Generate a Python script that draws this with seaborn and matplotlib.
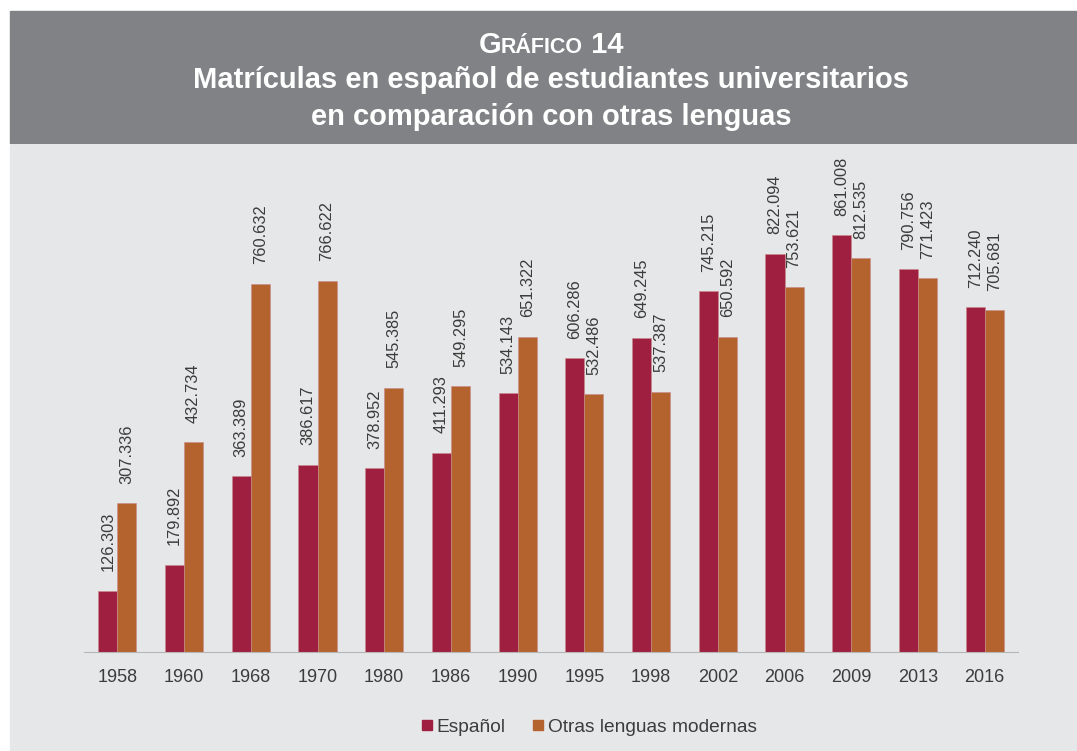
import matplotlib
matplotlib.use("Agg")
import matplotlib.pyplot as plt
from matplotlib.patches import Rectangle
from matplotlib.lines import Line2D
import pandas as pd
import seaborn as sns

years = ["1958", "1960", "1968", "1970", "1980", "1986", "1990",
         "1995", "1998", "2002", "2006", "2009", "2013", "2016"]
espanol = [126303, 179892, 363389, 386617, 378952, 411293, 534143,
           606286, 649245, 745215, 822094, 861008, 790756, 712240]
otras = [307336, 432734, 760632, 766622, 545385, 549295, 651322,
         532486, 537387, 650592, 753621, 812535, 771423, 705681]
series = ["Español", "Otras lenguas modernas"]
colors = ["#9e1f3f", "#b5632e"]

df = pd.DataFrame({
    "year": years * 2,
    "value": espanol + otras,
    "serie": [series[0]] * len(years) + [series[1]] * len(years),
})

sns.set_style("white")
plt.rcParams["font.family"] = ["Liberation Sans", "DejaVu Sans"]

text_col = "#3c3c3c"
body_bg = "#e6e7e8"

fig = plt.figure(figsize=(10.77, 7.51), dpi=100)
fig.patch.set_facecolor("white")
W, H = 1077, 751

# header band and body panel
fig.add_artist(Rectangle((10 / W, 1 - 143 / H), 1 - 10 / W, 132 / H,
                         transform=fig.transFigure, color="#818285", zorder=0))
fig.add_artist(Rectangle((10 / W, 0), 1 - 10 / W, 1 - 145 / H,
                         transform=fig.transFigure, color=body_bg, zorder=0))

ax = fig.add_axes([84 / W, 1 - 652 / H, (1018 - 84) / W, (652 - 160) / H])
ax.set_facecolor("none")

sns.barplot(data=df, x="year", y="value", hue="serie", palette=colors,
            width=0.57, gap=0, ax=ax, legend=False, saturation=1,
            edgecolor="#c98a8a", linewidth=0.4)

for cont in ax.containers:
    ax.bar_label(cont, labels=[f"{v:,.0f}".replace(",", ".") for v in cont.datavalues],
                 rotation=90, padding=14, fontsize=11.8, color=text_col)

ax.set_ylim(0, 1015880)
ax.set_xlim(-0.5, len(years) - 0.5)
ax.set_yticks([])
ax.set_xlabel("")
ax.set_ylabel("")
for s in ["top", "right", "left"]:
    ax.spines[s].set_visible(False)
ax.spines["bottom"].set_color("#b5b5b5")
ax.spines["bottom"].set_linewidth(0.8)
ax.tick_params(axis="x", which="major", length=0, pad=12, labelsize=13, labelcolor=text_col)
ax.set_xticks([i - 0.5 for i in range(len(years) + 1)], minor=True)
ax.tick_params(axis="x", which="minor", length=6, color="#b5b5b5", width=0.8)

handles = [Line2D([], [], marker="s", linestyle="none", markersize=6.5,
                  markerfacecolor=c, markeredgecolor=c) for c in colors]
fig.legend(handles, series, loc="center", bbox_to_anchor=(587 / W, 1 - 727 / H),
           ncol=2, frameon=False, fontsize=13.8, handletextpad=0.0,
           handlelength=1.0, columnspacing=1.2, labelcolor=text_col)

# title
cx = 551
fig.text(cx / W, 1 - 80 / H, "Matrículas en español de estudiantes universitarios",
         ha="center", va="center", color="white", fontsize=21, fontweight="bold")
fig.text(cx / W, 1 - 117 / H, "en comparación con otras lenguas",
         ha="center", va="center", color="white", fontsize=21, fontweight="bold")

# small-caps heading built from pieces
parts = [("G", 21), ("RÁFICO", 15.5), (" 14", 21)]
renderer = fig.canvas.get_renderer()
texts = []
for s, size in parts:
    t = fig.text(0, 1 - 53 / H, s, ha="left", va="baseline", color="white",
                 fontsize=size, fontweight="bold")
    texts.append(t)
widths = [t.get_window_extent(renderer).width for t in texts]
x = (cx - sum(widths) / 2)
for t, w in zip(texts, widths):
    t.set_x(x / W)
    x += w

fig.savefig("out.png", dpi=100, facecolor=fig.get_facecolor())
